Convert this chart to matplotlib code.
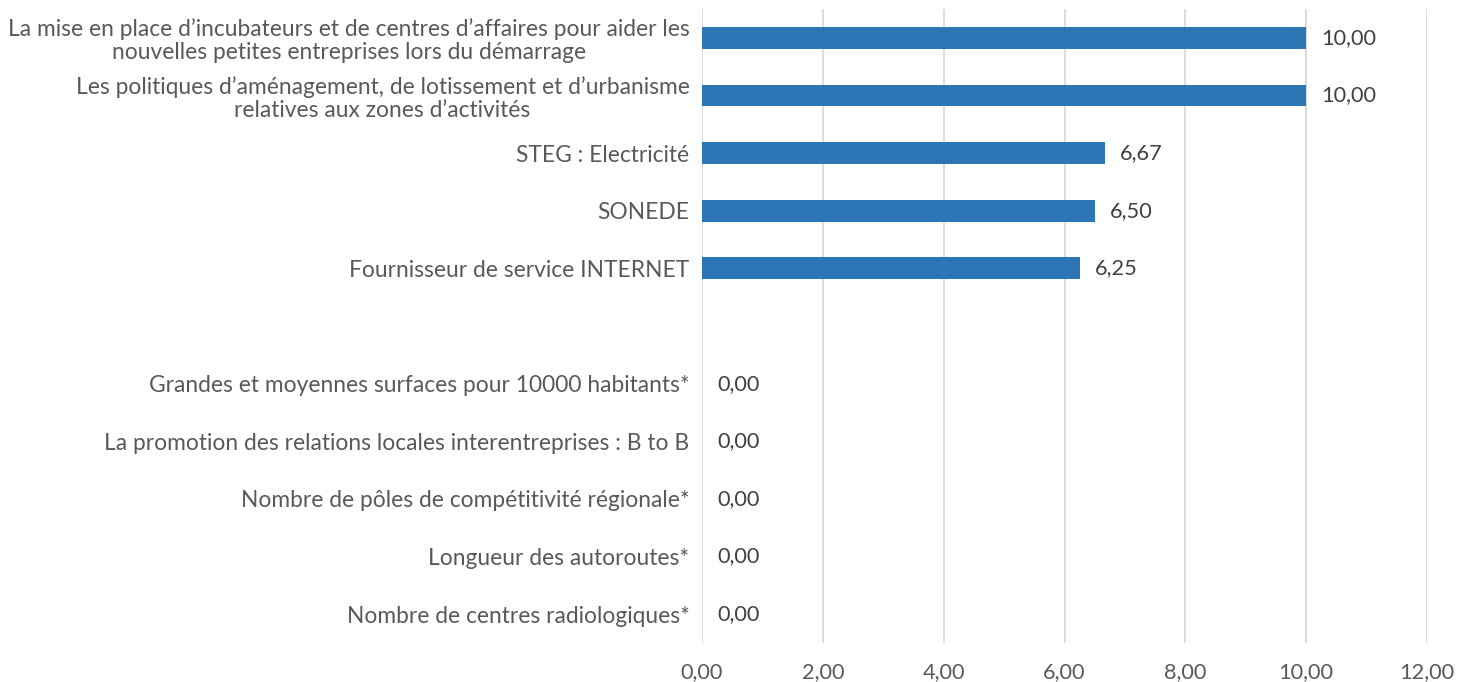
import matplotlib
matplotlib.use("Agg")
import matplotlib.pyplot as plt
import numpy as np

categories = [
    "La mise en place d\u2019incubateurs et de centres d\u2019affaires pour aider les\nnouvelles petites entreprises lors du démarrage",
    "Les politiques d\u2019aménagement, de lotissement et d\u2019urbanisme\nrelatives aux zones d\u2019activités",
    "STEG : Electricité",
    "SONEDE",
    "Fournisseur de service INTERNET",
    "",
    "Grandes et moyennes surfaces pour 10000 habitants*",
    "La promotion des relations locales interentreprises : B to B",
    "Nombre de pôles de compétitivité régionale*",
    "Longueur des autoroutes*",
    "Nombre de centres radiologiques*",
]
values = [10.0, 10.0, 6.67, 6.50, 6.25, np.nan, 0.0, 0.0, 0.0, 0.0, 0.0]
xticks = [0, 2, 4, 6, 8, 10, 12]

plt.rcParams['font.family'] = ['Lato', 'DejaVu Sans']
FS = 16.4
FSV = 15.7

fig = plt.figure(figsize=(14.59, 6.82), dpi=100)
ax = fig.add_axes([702/1459, 1-643/682, 725/1459, 634/682])

y = np.arange(len(categories))
vals = np.array(values, dtype=float)
ax.barh(y, np.nan_to_num(vals), height=0.38, color="#2E75B6", zorder=3)
for yi, v in zip(y, vals):
    if np.isnan(v):
        continue
    ax.annotate(f"{v:.2f}".replace(".", ","), xy=(v, yi), xytext=(11, 0),
                textcoords="offset points", va="center", ha="left",
                fontsize=FSV, color="#404040")

ax.set_ylim(len(categories) - 0.5, -0.5)
ax.set_xlim(0, 12)
ax.set_yticks(y)
ax.set_yticklabels(categories, fontsize=FS, color="#595959", ha="right",
                   multialignment="center", linespacing=1.1)
ax.set_xticks(xticks)
ax.set_xticklabels([f"{t:.2f}".replace(".", ",") for t in xticks],
                   fontsize=FSV, color="#595959")
ax.tick_params(axis="both", length=0)
ax.tick_params(axis="y", pad=9)
ax.tick_params(axis="x", pad=14)
ax.grid(axis="x", color="#D9D9D9", linewidth=1.3, zorder=0)
for s in ax.spines.values():
    s.set_visible(False)

fig.savefig("out.png", dpi=100)
